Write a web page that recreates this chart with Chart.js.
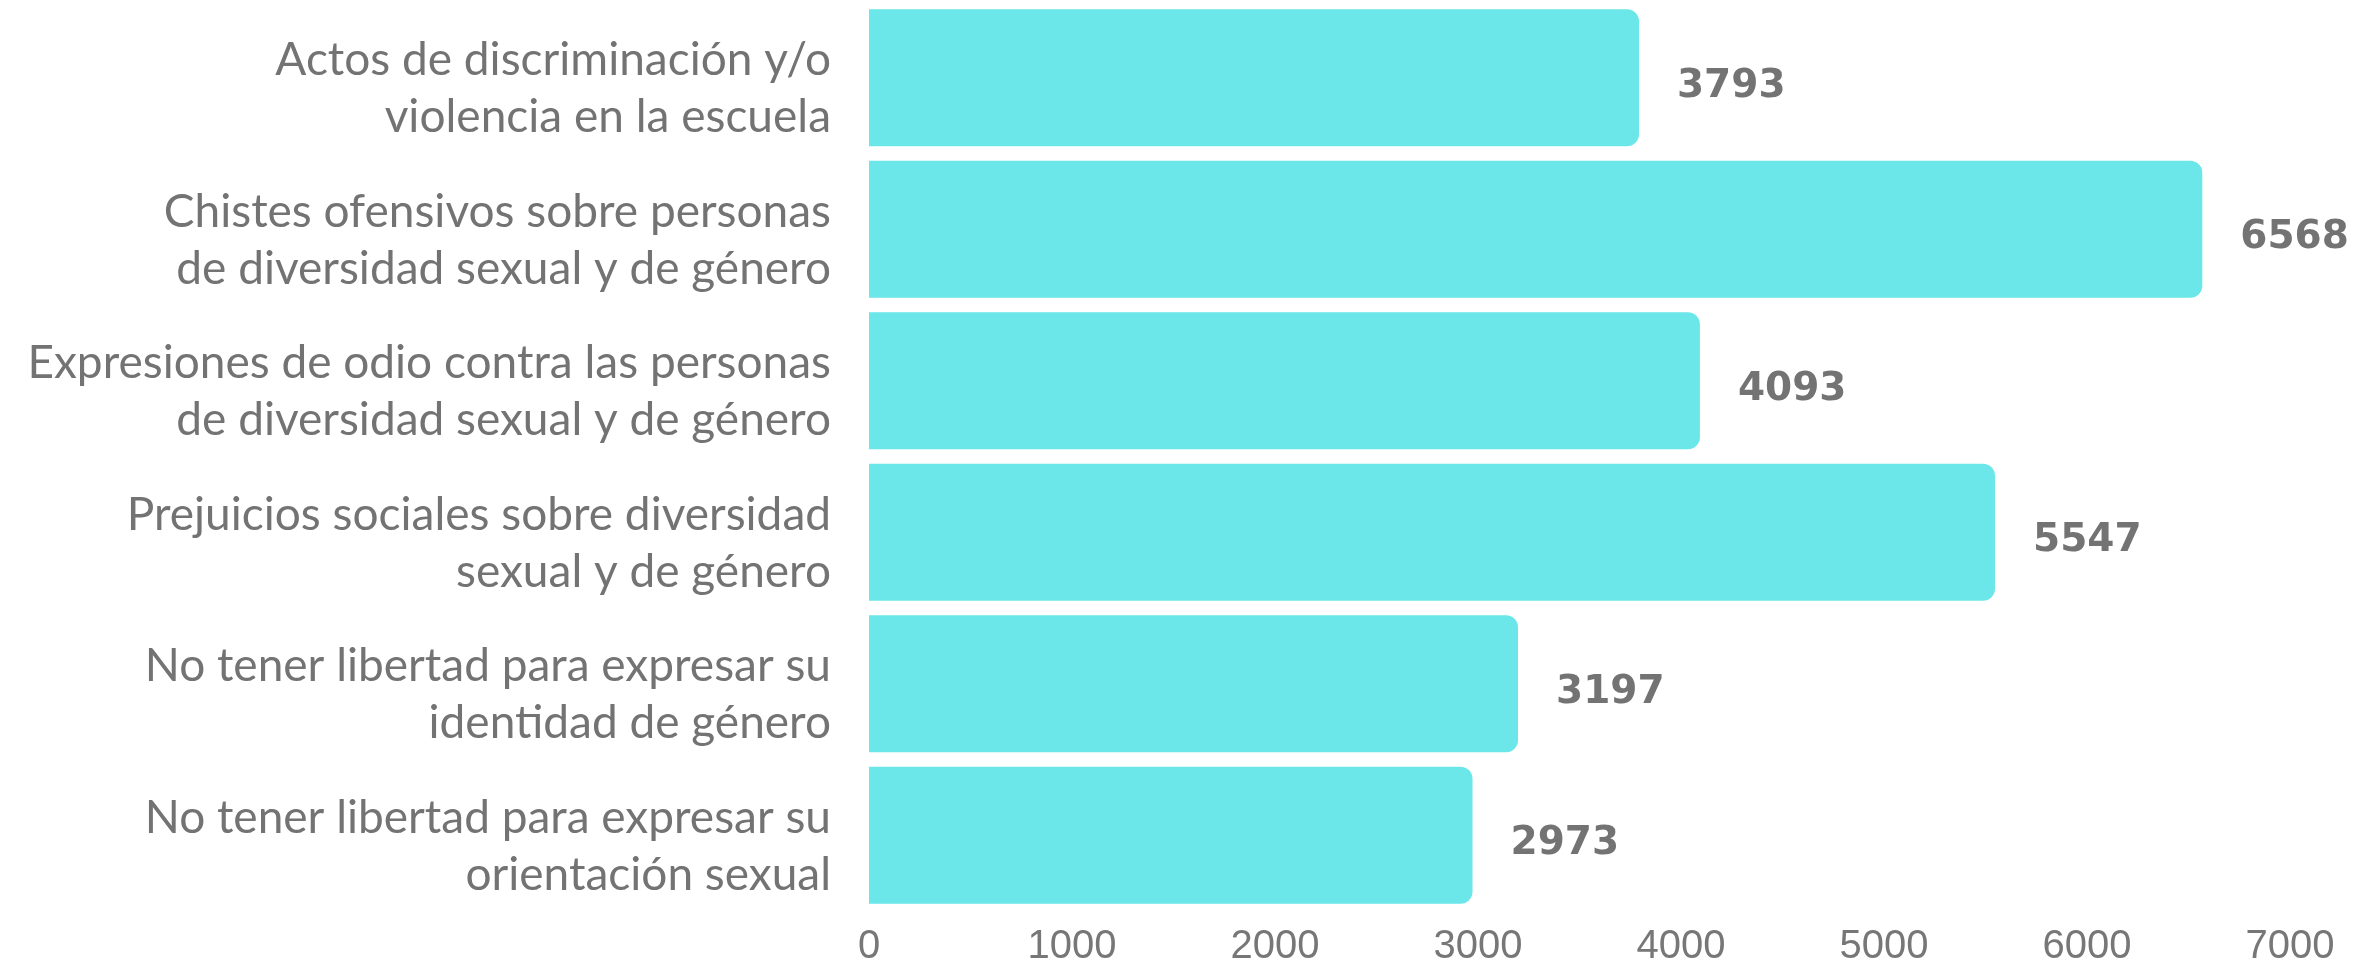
<!DOCTYPE html>
<html>
<head>
<meta charset="utf-8">
<script src="https://cdn.jsdelivr.net/npm/chart.js@4.4.0/dist/chart.umd.min.js"></script>
<style>
  html, body { margin: 0; padding: 0; background: #ffffff; }
  #wrap { width: 2356px; height: 963px; position: relative; }
</style>
</head>
<body>
<div id="wrap"><canvas id="c" width="2356" height="963"></canvas></div>
<script>
const categories = [
  ["Actos de discriminación y/o", "violencia en la escuela"],
  ["Chistes ofensivos sobre personas", "de diversidad sexual y de género"],
  ["Expresiones de odio contra las personas", "de diversidad sexual y de género"],
  ["Prejuicios sociales sobre diversidad", "sexual y de género"],
  ["No tener libertad para expresar su", "identidad de género"],
  ["No tener libertad para expresar su", "orientación sexual"]
];
const values = [3793, 6568, 4093, 5547, 3197, 2973];
const xTicks = [0, 1000, 2000, 3000, 4000, 5000, 6000, 7000];

const valueLabels = {
  id: 'valueLabels',
  afterDatasetsDraw(chart) {
    const ctx = chart.ctx;
    const meta = chart.getDatasetMeta(0);
    ctx.save();
    ctx.font = 'bold 39px "DejaVu Sans"';
    ctx.fillStyle = '#737373';
    ctx.textAlign = 'left';
    ctx.textBaseline = 'middle';
    meta.data.forEach((bar, i) => {
      ctx.fillText(String(values[i]), bar.x + 38, bar.y + 9);
    });
    ctx.restore();
  }
};

new Chart(document.getElementById('c'), {
  type: 'bar',
  data: {
    labels: categories,
    datasets: [{
      data: values,
      backgroundColor: '#6be6e9',
      borderRadius: 12,
      borderSkipped: 'start',
      barPercentage: 0.905,
      categoryPercentage: 1.0
    }]
  },
  options: {
    indexAxis: 'y',
    responsive: false,
    animation: false,
    devicePixelRatio: 1,
    layout: { padding: { top: 2, right: 66, bottom: 0, left: 0 } },
    plugins: { legend: { display: false }, tooltip: { enabled: false } },
    scales: {
      x: {
        min: 0, max: 7000,
        afterBuildTicks(scale) { scale.ticks = xTicks.map(v => ({ value: v })); },
        afterFit(scale) { scale.height = 52; scale.paddingLeft = 0; scale.paddingRight = 0; },
        grid: { display: false, drawTicks: false },
        border: { display: false },
        ticks: {
          color: '#777777',
          padding: 12,
          maxRotation: 0,
          callback: (v) => String(v),
          font: { family: '"Liberation Sans"', size: 40 }
        }
      },
      y: {
        afterFit(scale) { scale.width = 869; scale.paddingTop = 0; scale.paddingBottom = 0; },
        grid: { display: false, drawTicks: false },
        border: { display: false },
        ticks: {
          color: '#737373',
          padding: 38,
          labelOffset: 11,
          font: { family: 'Lato', size: 46, lineHeight: 1.24 }
        }
      }
    }
  },
  plugins: [valueLabels]
});
</script>
</body>
</html>
